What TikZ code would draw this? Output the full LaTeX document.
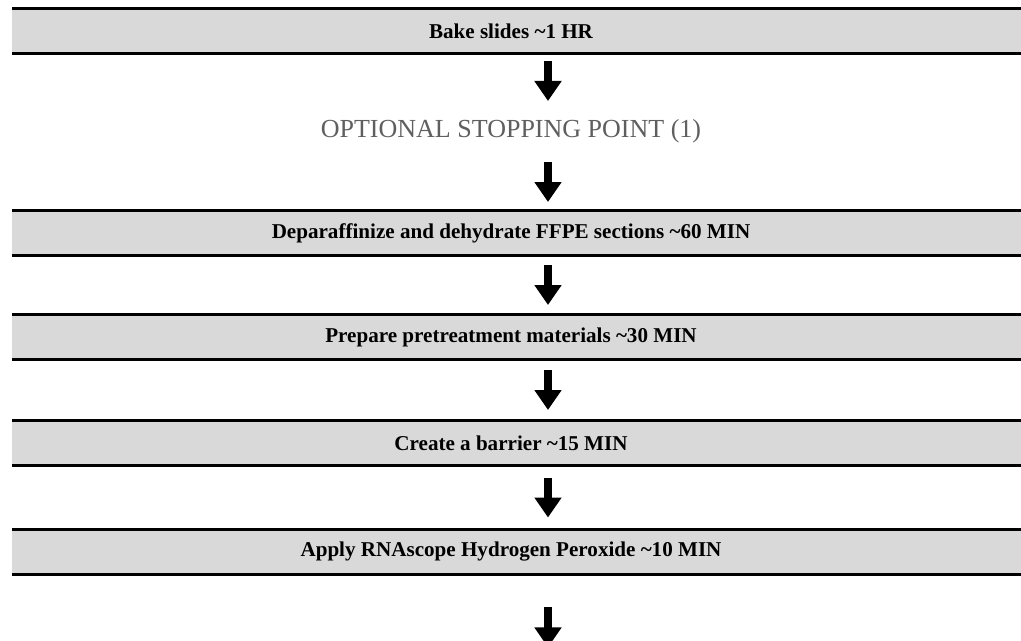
\documentclass[tikz,border=0pt]{standalone}
\usepackage{fontspec}
\setmainfont{Liberation Serif}
\usetikzlibrary{arrows.meta,calc,backgrounds}
\definecolor{barfill}{HTML}{D9D9D9}
\definecolor{notegray}{HTML}{5F5F5F}

\begin{document}
\begin{tikzpicture}[x=0.025cm,y=0.025cm,
	stage/.style={inner sep=0pt,minimum height=1.125cm,font=\fontsize{15}{17}\selectfont\bfseries},
	note/.style={inner sep=0pt,minimum height=1.125cm,text=notegray,font=\fontsize{18.5}{21}\selectfont},
	rule/.style={line width=0.075cm},
	flow/.style={line width=0.2cm,-{Triangle[width=0.65cm,length=0.5cm]}}]
	\useasboundingbox (0,0) rectangle (1021,-640);
	\coordinate (L) at (12,0);
	\coordinate (R) at (1040,0);

	\node[stage] (bake) at (511,-31) {Bake slides \textasciitilde1 HR};
	\node[note] (stop) at (511,-131) {OPTIONAL STOPPING POINT (1)};
	\node[stage] (dewax) at (511,-233) {Deparaffinize and dehydrate FFPE sections \textasciitilde60 MIN};
	\node[stage] (pretreat) at (511,-337) {Prepare pretreatment materials \textasciitilde30 MIN};
	\node[stage] (barrier) at (511,-443) {Create a barrier \textasciitilde15 MIN};
	\node[stage] (peroxide) at (511,-552) {Apply RNAscope Hydrogen Peroxide \textasciitilde10 MIN};
	\coordinate (next) at (511,-680);

	\begin{scope}[on background layer]
		\foreach \n in {bake,dewax,pretreat,barrier,peroxide}
			\fill[barfill] (L |- \n.north) rectangle (R |- \n.south);
	\end{scope}
	\foreach \n in {bake,dewax,pretreat,barrier,peroxide} {
		\draw[rule] (L |- \n.north) -- (R |- \n.north);
		\draw[rule] (L |- \n.south) -- (R |- \n.south);
	}

	\foreach \a/\b in {bake/stop,stop/dewax,dewax/pretreat,pretreat/barrier,barrier/peroxide,peroxide/next}
		\draw[flow] ($(\a.south)!.5!(\b.north)+(37,20)$) -- ($(\a.south)!.5!(\b.north)+(37,-20)$);
\end{tikzpicture}
\end{document}
